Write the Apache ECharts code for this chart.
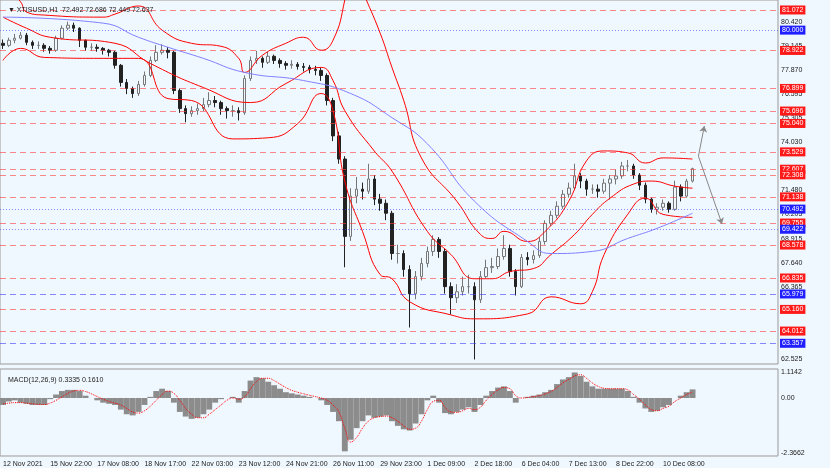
<!DOCTYPE html>
<html><head><meta charset="utf-8">
<script src="https://cdn.jsdelivr.net/npm/echarts@6/dist/echarts.min.js"></script>
<style>html,body{margin:0;padding:0;background:#f0f8ff}#c{width:830px;height:468px}</style>
</head><body><div id="c"></div>
<script>
const closes=[79.19,79.46,79.57,79.73,79.35,79.19,79.19,79.03,78.93,79.57,80.10,80.26,80.10,79.46,79.09,79.09,79.03,78.93,78.82,78.13,77.22,76.90,76.63,77.11,77.59,78.39,78.82,78.93,78.82,76.79,75.83,75.56,75.72,75.83,76.04,76.26,76.15,75.83,75.72,75.72,75.61,77.43,78.39,78.50,78.29,78.61,78.39,78.23,78.13,78.18,78.07,78.02,77.91,77.86,77.59,76.26,74.38,73.15,69.04,71.18,71.55,71.44,72.09,71.02,70.80,70.27,68.13,68.13,67.28,65.99,66.90,67.60,68.24,68.88,68.24,66.37,65.78,66.10,66.37,66.37,65.67,66.90,67.38,67.44,67.97,68.40,67.17,66.37,67.92,67.81,68.02,68.77,69.73,70.16,70.64,71.28,71.61,72.25,71.98,71.55,71.55,71.44,71.87,72.09,72.25,72.78,72.78,72.30,71.76,71.02,70.48,70.59,70.80,70.48,71.66,71.18,71.98,72.64];
const opens=[79.30,79.19,79.46,79.57,79.73,79.35,79.19,79.19,79.03,78.93,79.57,80.10,80.26,80.10,79.46,79.09,79.09,79.03,78.93,78.82,78.13,77.22,76.90,76.63,77.11,77.59,78.39,78.82,78.93,78.82,76.79,75.83,75.56,75.72,75.83,76.04,76.26,76.15,75.83,75.72,75.72,75.61,77.43,78.39,78.50,78.29,78.61,78.39,78.23,78.13,78.18,78.07,78.02,77.91,77.86,77.59,76.26,74.38,73.15,69.04,71.18,71.55,71.44,72.09,71.02,70.80,70.27,68.13,68.13,67.28,65.99,66.90,67.60,68.24,68.88,68.24,66.37,65.78,66.10,66.37,66.37,65.67,66.90,67.38,67.44,67.97,68.40,67.17,66.37,67.92,67.81,68.02,68.77,69.73,70.16,70.64,71.28,71.61,72.25,71.98,71.55,71.55,71.44,71.87,72.09,72.25,72.78,72.78,72.30,71.76,71.02,70.48,70.59,70.80,70.48,71.66,71.18,71.98,72.49];
const highs=[79.5,79.6,79.8,79.9,79.85,79.45,79.4,79.3,79.15,79.7,80.25,80.45,80.4,80.15,79.5,79.3,79.25,79.1,79.0,78.9,78.2,77.4,77.0,77.3,77.8,78.6,79.2,79.25,79.1,78.9,76.9,76.0,75.95,76.1,76.4,76.7,76.5,76.25,75.95,76.0,75.9,77.6,78.6,78.9,78.6,78.85,78.7,78.5,78.35,78.4,78.3,78.25,78.15,78.1,78.0,77.7,76.4,74.6,73.3,71.6,72.2,71.9,72.9,72.3,71.3,71.0,70.4,68.6,68.3,67.5,67.2,67.9,68.5,69.1,69.0,68.4,66.6,66.5,66.9,67.0,66.6,67.2,67.8,67.9,68.4,69.1,68.6,67.3,68.1,68.2,68.3,69.0,69.9,70.4,70.9,71.5,71.9,72.9,72.4,72.1,71.8,71.8,72.1,72.3,72.6,73.0,73.1,72.9,72.4,71.9,71.1,70.8,71.0,70.9,72.0,71.8,72.1,72.69];
const lows=[79.0,79.1,79.3,79.5,79.2,79.0,79.0,78.85,78.75,78.85,79.5,80.0,79.9,79.1,78.9,78.9,78.85,78.7,78.6,77.95,77.0,76.6,76.4,76.5,77.0,77.5,78.3,78.7,78.5,76.6,75.6,75.1,75.4,75.5,75.7,75.9,75.9,75.5,75.3,75.4,75.2,75.5,77.3,78.2,78.0,78.2,78.2,78.0,77.9,77.95,77.9,77.8,77.7,77.6,77.3,76.0,74.1,72.9,67.4,68.8,70.8,71.0,71.3,70.7,70.4,69.9,67.8,67.6,66.9,64.2,65.7,66.7,67.4,68.0,67.9,66.0,64.9,65.5,65.9,66.0,62.5,65.5,66.8,67.1,67.3,67.8,66.9,65.9,66.3,67.5,67.6,67.9,68.6,69.6,70.0,70.5,71.1,71.5,71.6,71.2,71.3,71.1,71.3,71.0,71.8,72.1,72.5,72.1,71.5,70.8,70.3,70.2,70.4,70.3,70.4,70.9,71.1,71.9];
const upperBand=[[0,82.6],[3,81.5],[4,80.96],[7,80.8],[17,80.69],[19,80.85],[23,81.28],[27,80.0],[32,79.3],[37,79.14],[40,78.5],[41,77.75],[44,78.66],[48,79.3],[51,79.62],[54,78.93],[56,79.46],[58,81.6],[59,83.7],[61,82.1],[64,79.84],[66,78.02],[68,76.26],[71,73.21],[77,70.91],[81,69.15],[83,68.93],[85,69.31],[89,68.77],[92,69.31],[96,70.91],[99,73.05],[102,73.58],[106,73.48],[109,72.94],[112,73.21],[117,73.15]];
const middleBand=[[0,80.69],[4,80.1],[8,79.62],[19,79.3],[25,78.23],[34,76.95],[42,76.15],[48,77.16],[54,78.02],[56,77.32],[58,75.72],[63,73.58],[66,72.51],[72,69.31],[76,68.08],[80,66.79],[83,66.79],[86,67.17],[90,67.33],[93,68.08],[97,69.15],[100,70.21],[103,71.07],[107,71.82],[110,71.98],[114,71.71],[117,71.6]];
const lowerBand=[[0,78.39],[3,79.03],[7,78.55],[17,78.5],[23,78.5],[28,76.36],[32,76.26],[39,74.22],[45,74.28],[50,75.03],[54,76.63],[56,75.72],[58,71.98],[61,69.31],[64,67.01],[66,66.79],[69,65.57],[76,64.87],[80,64.66],[89,64.92],[93,65.83],[98,65.46],[100,66.1],[102,68.08],[106,70.21],[109,71.07],[112,70.21],[117,70.05]];
const maSlow=[[0,80.69],[17,80.37],[23,79.62],[28,79.09],[34,78.5],[41,77.75],[51,77.32],[59,76.63],[66,75.35],[72,73.96],[80,70.91],[89,68.77],[93,68.13],[100,68.24],[106,68.93],[111,69.47],[117,70.27]];
const macdHist=[-0.3,-0.15,-0.1,-0.2,-0.25,-0.3,-0.3,-0.3,-0.05,0.15,0.3,0.35,0.35,0.3,0.1,0.0,-0.1,-0.2,-0.25,-0.3,-0.5,-0.7,-0.75,-0.6,-0.3,0.05,0.3,0.4,0.3,-0.2,-0.6,-0.8,-0.9,-0.85,-0.7,-0.5,-0.2,-0.05,0.0,0.05,-0.2,0.3,0.75,0.9,0.85,0.7,0.55,0.4,0.25,0.2,0.15,0.1,0.05,0.0,-0.1,-0.3,-0.6,-1.0,-2.3,-1.8,-1.3,-1.0,-0.75,-0.85,-0.8,-0.75,-1.0,-1.2,-1.35,-1.4,-1.1,-0.7,-0.1,0.1,-0.2,-0.65,-0.7,-0.6,-0.5,-0.4,-0.6,-0.3,0.1,0.3,0.45,0.5,0.3,-0.2,0.0,0.05,0.1,0.15,0.25,0.35,0.6,0.8,0.9,1.1,0.95,0.7,0.5,0.4,0.4,0.4,0.4,0.4,0.3,0.05,-0.2,-0.45,-0.6,-0.55,-0.4,-0.3,0.0,0.1,0.25,0.37];
const macdSignal=[-0.25,-0.22,-0.2,-0.2,-0.22,-0.25,-0.27,-0.28,-0.22,-0.1,0.05,0.2,0.3,0.33,0.28,0.18,0.06,-0.05,-0.15,-0.22,-0.3,-0.45,-0.6,-0.65,-0.55,-0.35,-0.1,0.15,0.3,0.2,-0.1,-0.45,-0.7,-0.85,-0.85,-0.7,-0.5,-0.3,-0.1,0.0,-0.05,0.05,0.4,0.7,0.85,0.85,0.75,0.6,0.45,0.33,0.25,0.18,0.12,0.06,0.0,-0.1,-0.3,-0.6,-1.3,-1.9,-1.7,-1.3,-1.0,-0.85,-0.8,-0.78,-0.85,-1.0,-1.2,-1.35,-1.3,-1.0,-0.5,-0.15,-0.1,-0.4,-0.6,-0.62,-0.55,-0.45,-0.5,-0.4,-0.1,0.15,0.35,0.45,0.4,0.1,0.0,0.02,0.06,0.1,0.18,0.28,0.45,0.65,0.8,0.95,1.0,0.85,0.65,0.5,0.42,0.4,0.4,0.4,0.35,0.15,-0.05,-0.3,-0.5,-0.55,-0.45,-0.35,-0.15,0.0,0.15,0.25];
const timeLabels=['12 Nov 2021','15 Nov 22:00','17 Nov 08:00','18 Nov 17:00','22 Nov 03:00','23 Nov 12:00','24 Nov 21:00','26 Nov 11:00','29 Nov 23:00','1 Dec 09:00','2 Dec 18:00','6 Dec 04:00','7 Dec 13:00','8 Dec 22:00','10 Dec 08:00'];
const priceTicks=[80.420,79.145,77.870,76.595,75.305,74.030,71.480,70.205,68.915,67.640,66.365,62.525];
const redLevels=[81.072,78.922,76.899,75.696,75.040,73.529,72.607,72.308,71.138,69.755,68.578,66.835,65.160,64.012];
const blueLevels=[80.000,70.492,69.422,65.979,63.357];
const blueDotted=[80.000,70.492,69.422];
const macdTicks=['1.1142','0.00','-2.3662'];

const SLOTS=132, PER_LABEL=8;
const cats=[];for(let i=0;i<SLOTS;i++){const k=i/PER_LABEL;cats.push(i%PER_LABEL===0&&k<timeLabels.length?timeLabels[k]:'');}
const candles=closes.map((c,i)=>[opens[i],c,lows[i],highs[i]]);
const fs=7,ff='Liberation Sans';
const tickLine=v=>({yAxis:v,lineStyle:{color:'rgba(0,0,0,0)',width:0},label:{formatter:v.toFixed(3),color:'#222',fontSize:fs,fontFamily:ff,distance:3}});
const lvl=(v,col,line,dotted)=>({yAxis:v,lineStyle:{color:line,type:dotted?[1,2]:[6,4],width:1},label:{formatter:v.toFixed(3),color:'#fff',backgroundColor:col,fontSize:fs,fontFamily:ff,padding:[1,2],distance:2}});
const chart=echarts.init(document.getElementById('c'));
chart.setOption({
 animation:false,backgroundColor:'#f0f8ff',
 title:[{text:'▼ XTISUSD,H1  72.492 72.686 72.449 72.637',left:3,top:2,textStyle:{fontSize:fs,fontWeight:'normal',color:'#222',fontFamily:ff}},
        {text:'MACD(12,26,9) 0.3335 0.1610',left:3,top:372,textStyle:{fontSize:fs,fontWeight:'normal',color:'#222',fontFamily:ff}}],
 grid:[{left:0,right:52,top:0,height:364,show:true,borderColor:'#999',borderWidth:1},
       {left:0,right:52,top:369,height:87,show:true,borderColor:'#999',borderWidth:1}],
 xAxis:[{type:'category',data:cats,gridIndex:0,axisLabel:{show:false},axisTick:{show:false},axisLine:{show:false}},
        {type:'category',data:cats,gridIndex:1,axisLine:{show:false},axisTick:{show:false},
         axisLabel:{interval:0,fontSize:fs,fontFamily:ff,color:'#222',align:'left',margin:5}}],
 yAxis:[{gridIndex:0,min:62.26,max:81.6,axisLabel:{show:false},splitLine:{show:false},axisLine:{show:false}},
        {gridIndex:1,min:-2.5,max:1.25,axisLabel:{show:false},splitLine:{show:false},axisLine:{show:false}}],
 series:[
  {type:'candlestick',data:candles,barWidth:3,xAxisIndex:0,yAxisIndex:0,
   itemStyle:{color:'#f0f8ff',color0:'#222',borderColor:'#777',borderColor0:'#222',borderWidth:1},
   markLine:{silent:true,symbol:'none',animation:false,
     data:[...priceTicks.map(tickLine),
       ...redLevels.map(v=>lvl(v,'#ff1a1a','rgba(255,60,60,0.6)',false)),
       ...blueLevels.map(v=>lvl(v,'#1f1fff','rgba(60,60,255,0.6)',blueDotted.includes(v)))]}},
  {type:'line',data:upperBand,smooth:true,showSymbol:false,lineStyle:{color:'#ff0000',width:1},xAxisIndex:0,yAxisIndex:0,clip:true},
  {type:'line',data:middleBand,smooth:true,showSymbol:false,lineStyle:{color:'#ff0000',width:1},clip:true},
  {type:'line',data:lowerBand,smooth:true,showSymbol:false,lineStyle:{color:'#ff0000',width:1},clip:true},
  {type:'line',data:maSlow,smooth:true,showSymbol:false,lineStyle:{color:'#8080ff',width:1},clip:true,
   markLine:{silent:true,symbol:['none','arrow'],symbolSize:6,lineStyle:{color:'#888',type:'solid',width:1},label:{show:false},
     data:[[{coord:[118,73.3]},{coord:[119,74.9]}],[{coord:[118,73.3]},{coord:[122,69.7]}]]}},
  {type:'bar',data:macdHist,xAxisIndex:1,yAxisIndex:1,barWidth:'100%',itemStyle:{color:'#8c8c8c'},
   markLine:{silent:true,symbol:'none',data:[1.1142,0,-2.3662].map((v,i)=>({yAxis:v,lineStyle:{color:'rgba(0,0,0,0)',width:0},label:{formatter:macdTicks[i],fontSize:fs,fontFamily:ff,color:'#222',distance:3}}))}},
  {type:'line',data:macdSignal,xAxisIndex:1,yAxisIndex:1,showSymbol:false,smooth:true,lineStyle:{color:'#ff0000',width:1,type:[1,1]}}
 ]
});
</script></body></html>
